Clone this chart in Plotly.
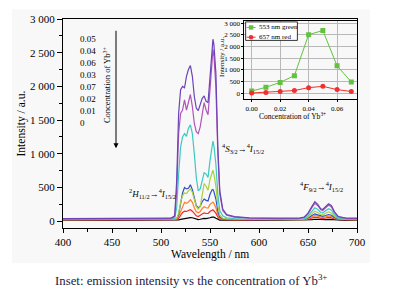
import plotly.graph_objects as go

# ---------------- data ----------------
wavelength = [400, 450, 500, 510, 514, 516, 518, 520, 522, 524, 526, 528, 530, 532, 534, 536,
              538, 540, 542, 544, 546, 548, 550, 552, 553, 554, 556, 558, 560, 563, 567, 575,
              590, 620, 640, 646, 650, 654, 657, 660, 663, 665, 668, 671, 674, 677, 681, 690, 700]

spec_005 = [40, 40, 40, 45, 80, 600, 1600, 1950, 2000, 1980, 2150, 2250, 2310, 2150, 1850, 1680,
            1640, 1720, 1820, 1860, 1780, 1760, 2150, 2650, 2700, 2620, 2200, 1100, 450, 180, 100, 70,
            50, 45, 45, 60, 120, 220, 290, 250, 185, 175, 220, 260, 230, 140, 70, 45, 45]
spec_004 = [35, 35, 35, 40, 70, 450, 1300, 1600, 1650, 1800, 1650, 1750, 1880, 1700, 1450, 1330,
            1300, 1400, 1600, 1760, 1650, 1580, 1950, 2480, 2550, 2450, 2000, 1000, 400, 160, 90, 60,
            45, 40, 40, 55, 110, 200, 265, 230, 170, 160, 200, 240, 210, 130, 65, 40, 40]
spec_006 = [30, 30, 30, 32, 45, 200, 700, 1100, 1250, 1300, 1260, 1380, 1430, 1300, 1000, 650,
            450, 480, 600, 720, 700, 650, 900, 1150, 1190, 1120, 850, 400, 160, 80, 50, 40,
            30, 30, 30, 40, 80, 150, 200, 175, 130, 125, 150, 185, 165, 100, 50, 30, 30]
spec_003 = [25, 25, 25, 26, 30, 40, 120, 280, 380, 420, 410, 450, 480, 430, 320, 220,
            180, 220, 380, 560, 520, 460, 620, 740, 757, 700, 520, 230, 90, 45, 35, 30,
            25, 25, 25, 30, 60, 110, 150, 130, 100, 95, 115, 140, 120, 75, 40, 25, 25]
spec_007 = [25, 25, 25, 26, 30, 35, 100, 250, 420, 500, 480, 490, 540, 470, 330, 230,
            200, 220, 290, 330, 310, 300, 400, 465, 470, 440, 330, 150, 60, 35, 30, 25,
            25, 25, 25, 28, 50, 85, 110, 95, 75, 72, 85, 100, 90, 55, 35, 25, 25]
spec_002 = [22, 22, 22, 23, 26, 30, 70, 150, 230, 280, 265, 285, 320, 280, 200, 140,
            125, 145, 190, 215, 200, 195, 250, 280, 285, 265, 200, 100, 45, 28, 25, 22,
            22, 22, 22, 25, 40, 65, 85, 75, 58, 56, 65, 78, 70, 45, 30, 22, 22]
spec_001 = [20, 20, 20, 20, 22, 25, 45, 90, 130, 150, 145, 160, 172, 150, 110, 80,
            70, 85, 110, 125, 115, 115, 145, 165, 170, 155, 120, 65, 32, 22, 20, 20,
            20, 20, 20, 22, 30, 48, 62, 55, 42, 40, 48, 56, 50, 33, 24, 20, 20]
spec_000 = [14, 14, 14, 14, 15, 15, 20, 28, 35, 40, 42, 48, 55, 52, 40, 30,
            25, 30, 38, 42, 40, 42, 52, 62, 65, 60, 45, 28, 18, 15, 14, 14,
            14, 14, 14, 15, 18, 24, 30, 27, 22, 21, 24, 28, 25, 19, 16, 14, 14]

conc_labels = ["0.05", "0.04", "0.06", "0.03", "0.07", "0.02", "0.01", "0"]
spectra = [spec_005, spec_004, spec_006, spec_003, spec_007, spec_002, spec_001, spec_000]
colors = ["#6a44b8", "#b055b8", "#3ec8c0", "#a8d040", "#3050c8", "#ff7f2a", "#f02828", "#000000"]

y_ticks = [0, 500, 1000, 1500, 2000, 2500, 3000]
y_ticktext = ["0", "500", "1 000", "1 500", "2 000", "2 500", "3 000"]
x_ticks = [400, 450, 500, 550, 600, 650, 700]

inset_conc = [0.00, 0.01, 0.02, 0.03, 0.04, 0.05, 0.06, 0.07]
green_553 = [90, 250, 460, 750, 2510, 2690, 1170, 480]
red_657 = [5, 30, 65, 110, 235, 290, 150, 70]
inset_xticks = [0.00, 0.02, 0.04, 0.06]
inset_xticktext = ["0.00", "0.02", "0.04", "0.06"]

# ---------------- layout helpers ----------------
# the page body has an 8px margin, so the figure starts at (8, 8) in the window
OFF = 8
W, H = 402 - OFF, 293 - OFF
ML, MT = 63 - OFF, 13 - OFF
MR = W - (357 - OFF)
MB = H - (228 - OFF)
PW, PH = W - ML - MR, H - MT - MB


def px_x(px):
    """window pixel x -> paper coordinate"""
    return (px - OFF - ML) / PW


def px_y(py):
    """window pixel y -> paper coordinate"""
    return 1 - (py - OFF - MT) / PH


FONT = "Liberation Serif"


def label(x, y, text, size, xanchor="center", angle=0, color="black", xref="paper", yref="paper"):
    return dict(x=x, y=y, xref=xref, yref=yref, text=text, showarrow=False,
                xanchor=xanchor, yanchor="middle", textangle=angle,
                font=dict(size=size, family=FONT, color=color))


fig = go.Figure()

# spectra: lowest first so the strongest curve is on top
for lab, ys, col in reversed(list(zip(conc_labels, spectra, colors))):
    fig.add_trace(go.Scatter(x=wavelength, y=ys, mode="lines", name=lab,
                             line=dict(color=col, width=1.2), showlegend=False,
                             xaxis="x", yaxis="y"))

# inset
fig.add_trace(go.Scatter(x=inset_conc, y=green_553, mode="lines+markers", name="553 nm green",
                         line=dict(color="#62c240", width=1),
                         marker=dict(symbol="square", size=5, color="#62c240"),
                         xaxis="x2", yaxis="y2", showlegend=False))
fig.add_trace(go.Scatter(x=inset_conc, y=red_657, mode="lines+markers", name="657 nm red",
                         line=dict(color="#f03030", width=1),
                         marker=dict(symbol="circle", size=5, color="#f03030"),
                         xaxis="x2", yaxis="y2", showlegend=False))

ann = []
ann.append(label(px_x(21), 0.5, "Intensity / a.u.", 11.5, angle=-90))
ann.append(label(px_x(210), px_y(255), "Wavelength / nm", 11.5))
ann.append(label(px_x(191), px_y(281),
                 "Inset: emission intensity vs the concentration of Yb<sup>3+</sup>", 12.8,
                 color="#1c2244"))
for i, lab in enumerate(conc_labels):
    ann.append(label(px_x(78), px_y(33.3 + 12.4 * i), lab, 9, xanchor="left"))
ann.append(dict(x=px_x(116), y=px_y(146), xref="paper", yref="paper", text="", showarrow=True,
                ax=0, ay=-119, arrowhead=2, arrowsize=1, arrowwidth=1, arrowcolor="black"))
ann.append(label(px_x(107), px_y(81), "Concentration of Yb<sup>3+</sup>", 8.5, angle=-90))
ann.append(label(px_x(178), px_y(192),
                 "<sup>2</sup><i>H</i><sub>11/2</sub>→<sup>4</sup><i>I</i><sub>15/2</sub>", 9,
                 xanchor="right"))
ann.append(label(px_x(220), px_y(146),
                 "<sup>4</sup><i>S</i><sub>3/2</sub>→<sup>4</sup><i>I</i><sub>15/2</sub>", 9,
                 xanchor="left"))
ann.append(label(px_x(321), px_y(185),
                 "<sup>4</sup><i>F</i><sub>9/2</sub>→<sup>4</sup><i>I</i><sub>15/2</sub>", 9))
# inset titles
ann.append(label(px_x(222), px_y(52), "Intensity / a.u.", 7, angle=-90))
ann.append(label(px_x(292), px_y(112.5), "Concentration of Yb<sup>3+</sup>", 7.5))
# inset legend text
ann.append(label(0.11, 0.917, "553 nm green", 7, xanchor="left", xref="x2 domain", yref="y2 domain"))
ann.append(label(0.11, 0.793, "657 nm red", 7, xanchor="left", xref="x2 domain", yref="y2 domain"))

shapes = [
    dict(type="rect", xref="paper", yref="paper", x0=px_x(12), x1=px_x(370), y0=px_y(264), y1=px_y(3),
         fillcolor="#f8f8f8", line=dict(width=0), layer="below"),
    # inset legend box and glyphs
    dict(type="rect", xref="x2 domain", yref="y2 domain", x0=0.012, x1=0.471, y0=0.752, y1=0.988,
         fillcolor="white", line=dict(color="black", width=0.8)),
    dict(type="line", xref="x2 domain", yref="y2 domain", x0=0.02, x1=0.10, y0=0.917, y1=0.917,
         line=dict(color="#62c240", width=1)),
    dict(type="rect", xref="x2 domain", yref="y2 domain", x0=0.04, x1=0.08, y0=0.889, y1=0.945,
         fillcolor="#62c240", line=dict(width=0)),
    dict(type="line", xref="x2 domain", yref="y2 domain", x0=0.02, x1=0.10, y0=0.793, y1=0.793,
         line=dict(color="#f03030", width=1)),
    dict(type="circle", xref="x2 domain", yref="y2 domain", x0=0.04, x1=0.08, y0=0.765, y1=0.821,
         fillcolor="#f03030", line=dict(width=0)),
]

axis_font = dict(size=11, family=FONT, color="black")
small_font = dict(size=7, family=FONT, color="black")

fig.update_layout(
    width=W, height=H,
    margin=dict(l=ML, r=MR, t=MT, b=MB, pad=0),
    paper_bgcolor="white", plot_bgcolor="rgba(0,0,0,0)",
    showlegend=False,
    annotations=ann, shapes=shapes,
    xaxis=dict(domain=[0, 1], range=[400, 700], tickvals=x_ticks, ticks="outside", ticklen=4,
               tickcolor="black", linecolor="black", linewidth=1, mirror=True, showgrid=False,
               zeroline=False, tickfont=axis_font, ticklabeloverflow="allow",
               minor=dict(dtick=25, tick0=400, ticks="outside", ticklen=2.5, tickcolor="black", showgrid=False)),
    yaxis=dict(domain=[0, 1], range=[-100, 3000], tickvals=y_ticks, ticktext=y_ticktext,
               ticks="outside", ticklen=5, tickcolor="black", linecolor="black", linewidth=1,
               mirror=True, showgrid=False, zeroline=False, tickfont=axis_font, ticklabeloverflow="allow",
               minor=dict(dtick=250, tick0=0, ticks="outside", ticklen=3, tickcolor="black", showgrid=False)),
    xaxis2=dict(domain=[px_x(244.3), 1], anchor="y2", range=[-0.0052, 0.074],
                tickvals=inset_xticks, ticktext=inset_xticktext, ticks="outside", ticklen=2,
                tickcolor="black", linecolor="black", linewidth=0.8, mirror=True, showgrid=True,
                gridcolor="#b8b8b8", gridwidth=0.7, zeroline=False, tickfont=small_font),
    yaxis2=dict(domain=[px_y(95.7), px_y(15)], anchor="x2", range=[-270, 3100],
                tickvals=y_ticks, ticktext=y_ticktext, ticks="outside", ticklen=2,
                tickcolor="black", linecolor="black", linewidth=0.8, mirror=True, showgrid=True,
                gridcolor="#b8b8b8", gridwidth=0.7, zeroline=False, tickfont=small_font),
)

fig.write_html("out.html")
